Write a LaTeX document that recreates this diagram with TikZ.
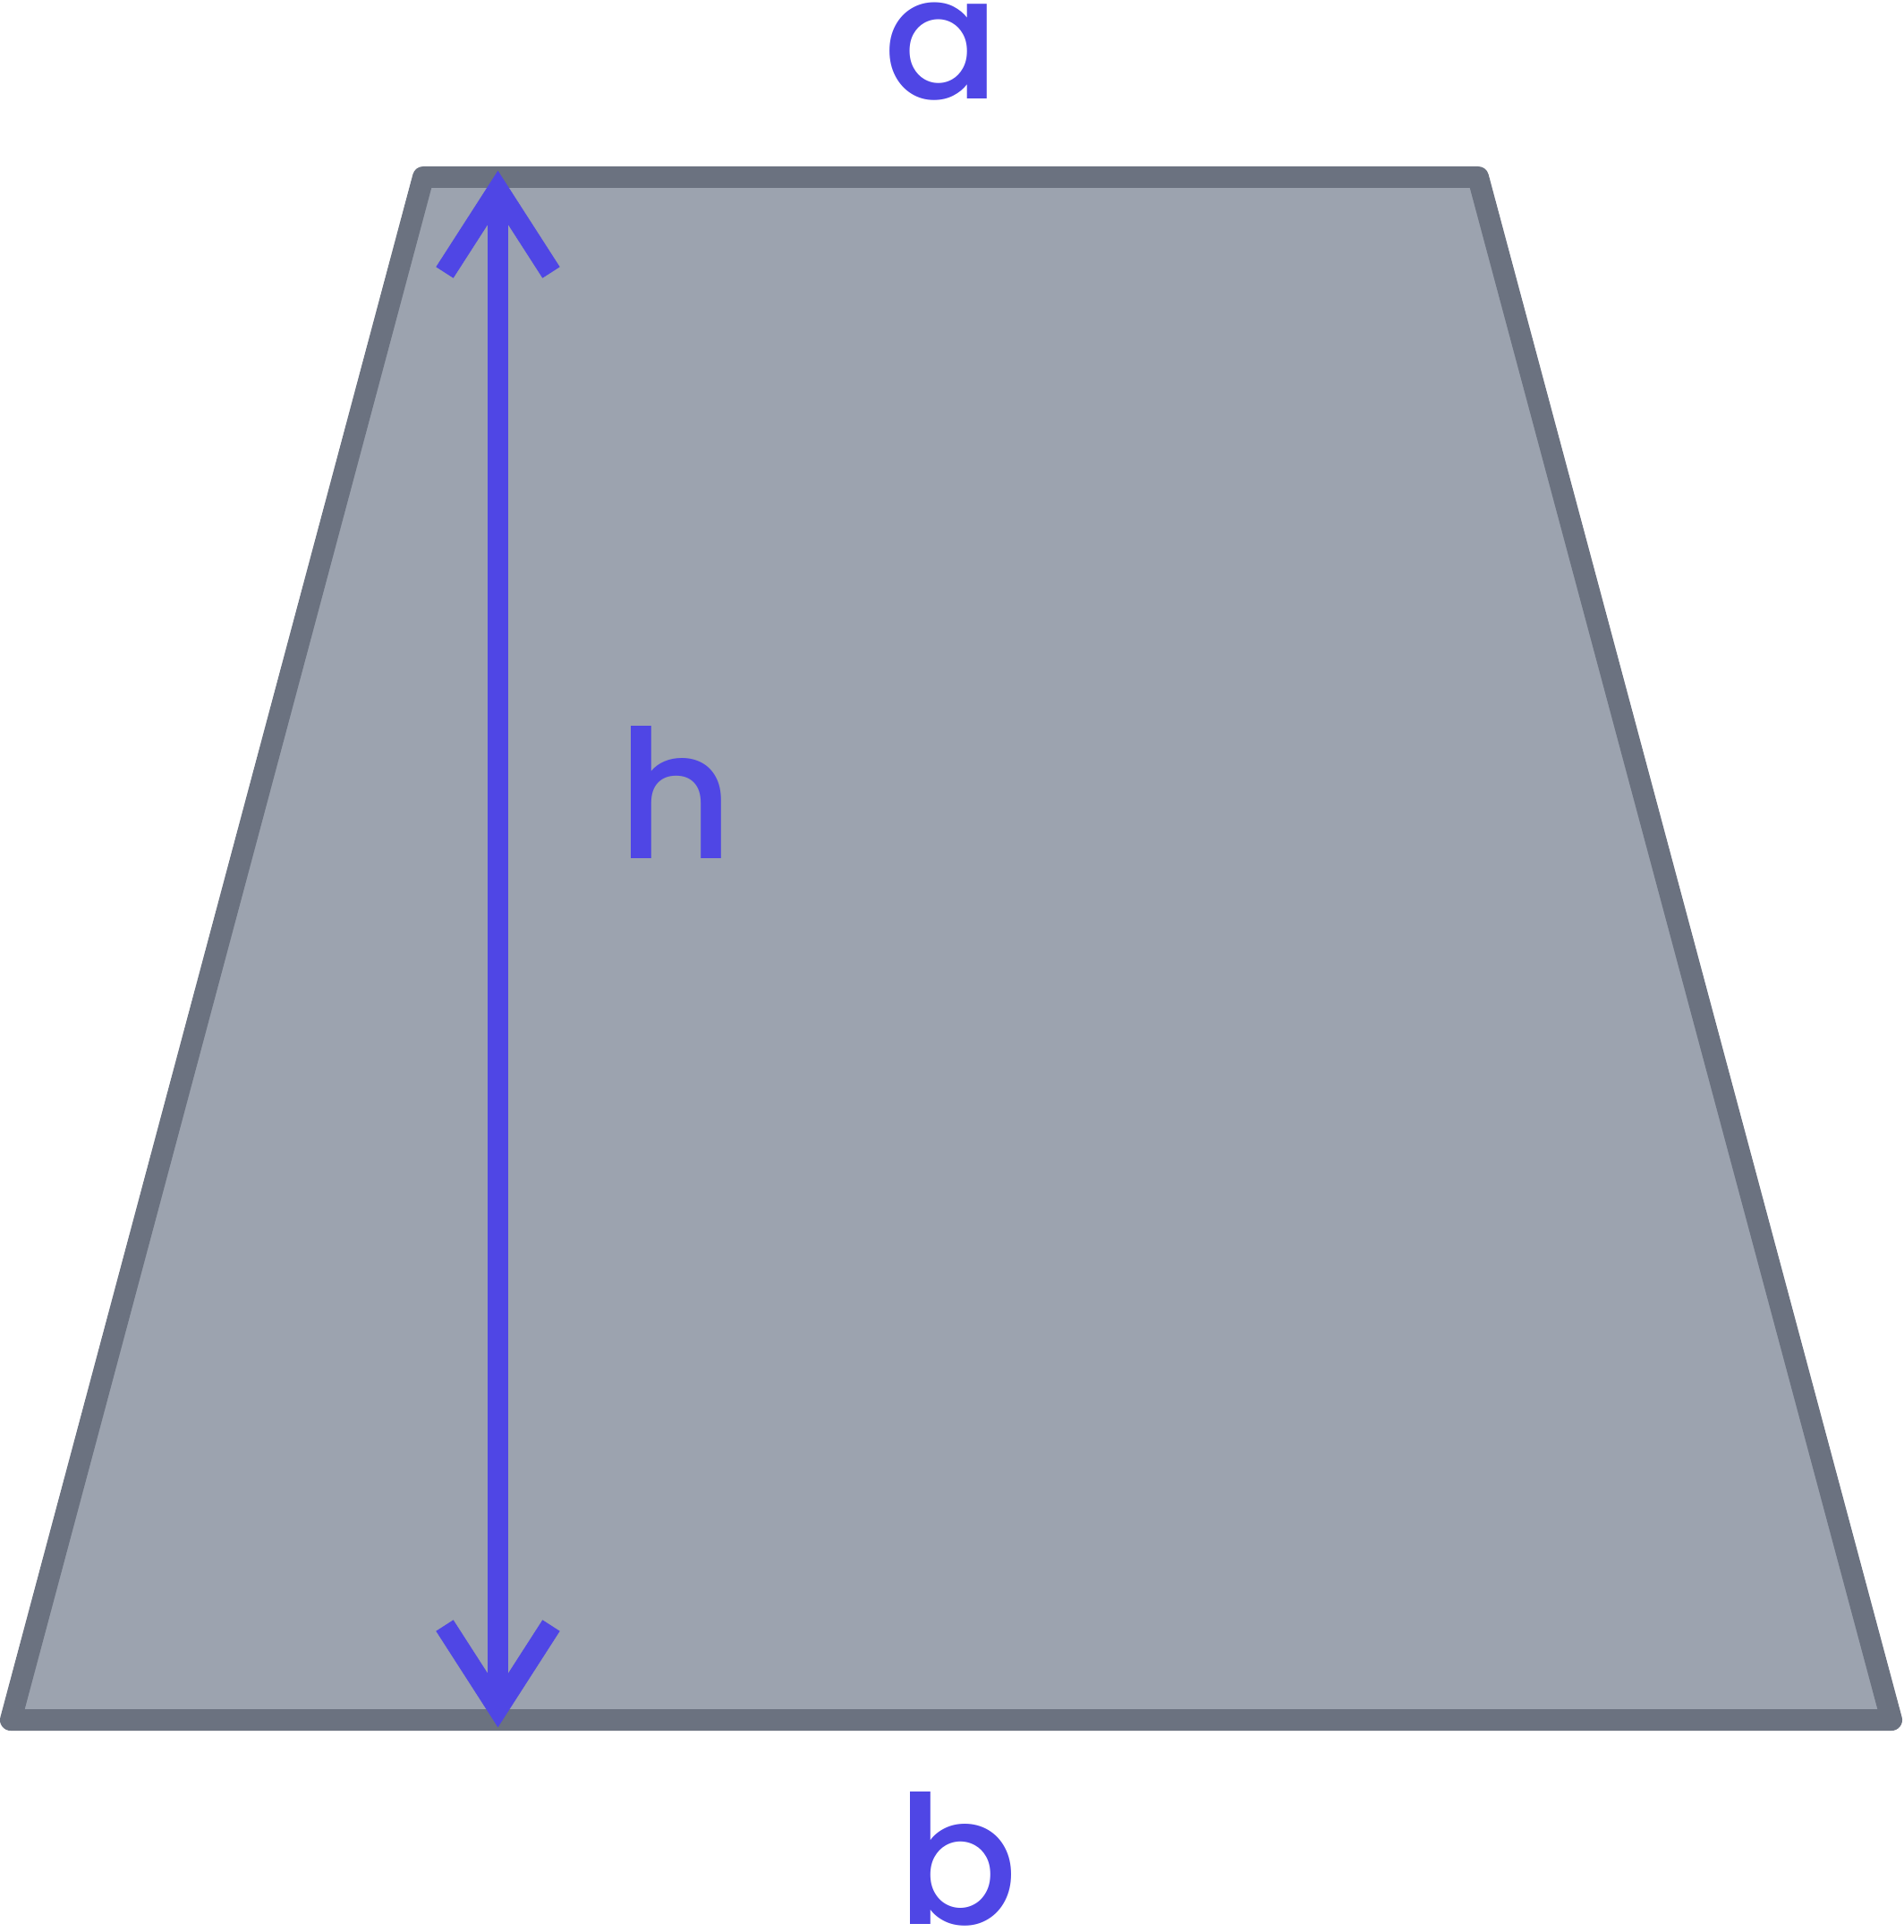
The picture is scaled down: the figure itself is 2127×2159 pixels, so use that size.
\documentclass[tikz,border=0pt]{standalone}
\usepackage{fontspec}
\setmainfont{Poppins}[UprightFont={* Medium}]
\definecolor{edgegray}{HTML}{6B7280}
\definecolor{fillgray}{HTML}{9CA3AF}
\definecolor{indigoline}{HTML}{4F46E5}
\begin{document}
\begin{tikzpicture}[x=1pt,y=-1pt,
  trapstyle/.style={draw=edgegray, fill=fillgray, line width=24pt, line join=round},
  dimline/.style={draw=indigoline, line width=23pt},
  chevron/.style={draw=indigoline, line width=23pt, line join=miter, line cap=butt},
  lbl/.style={text=indigoline, font=\fontsize{200}{200}\selectfont, inner sep=0pt, anchor=base}]
\useasboundingbox (0,0) rectangle (2127,2159);
\coordinate (tl) at (473,198);
\coordinate (tr) at (1652,198);
\coordinate (br) at (2114,1922);
\coordinate (bl) at (12,1922);
\path[trapstyle] (tl) -- (tr) -- (br) -- (bl) -- cycle;
\coordinate (htop) at (556.5,212);
\coordinate (hbot) at (556.5,1909);
\draw[dimline] (htop) -- (hbot);
\draw[chevron] (497,304.5) -- (htop) -- (616,304.5);
\draw[chevron] (497,1816.5) -- (hbot) -- (616,1816.5);
\node[lbl, font=\fontsize{192}{192}\selectfont] (la) at (1053,111) {a};
\node[lbl] (lh) at (755,959) {h};
\node[lbl] (lb) at (1070,2150) {b};
\end{tikzpicture}
\end{document}
